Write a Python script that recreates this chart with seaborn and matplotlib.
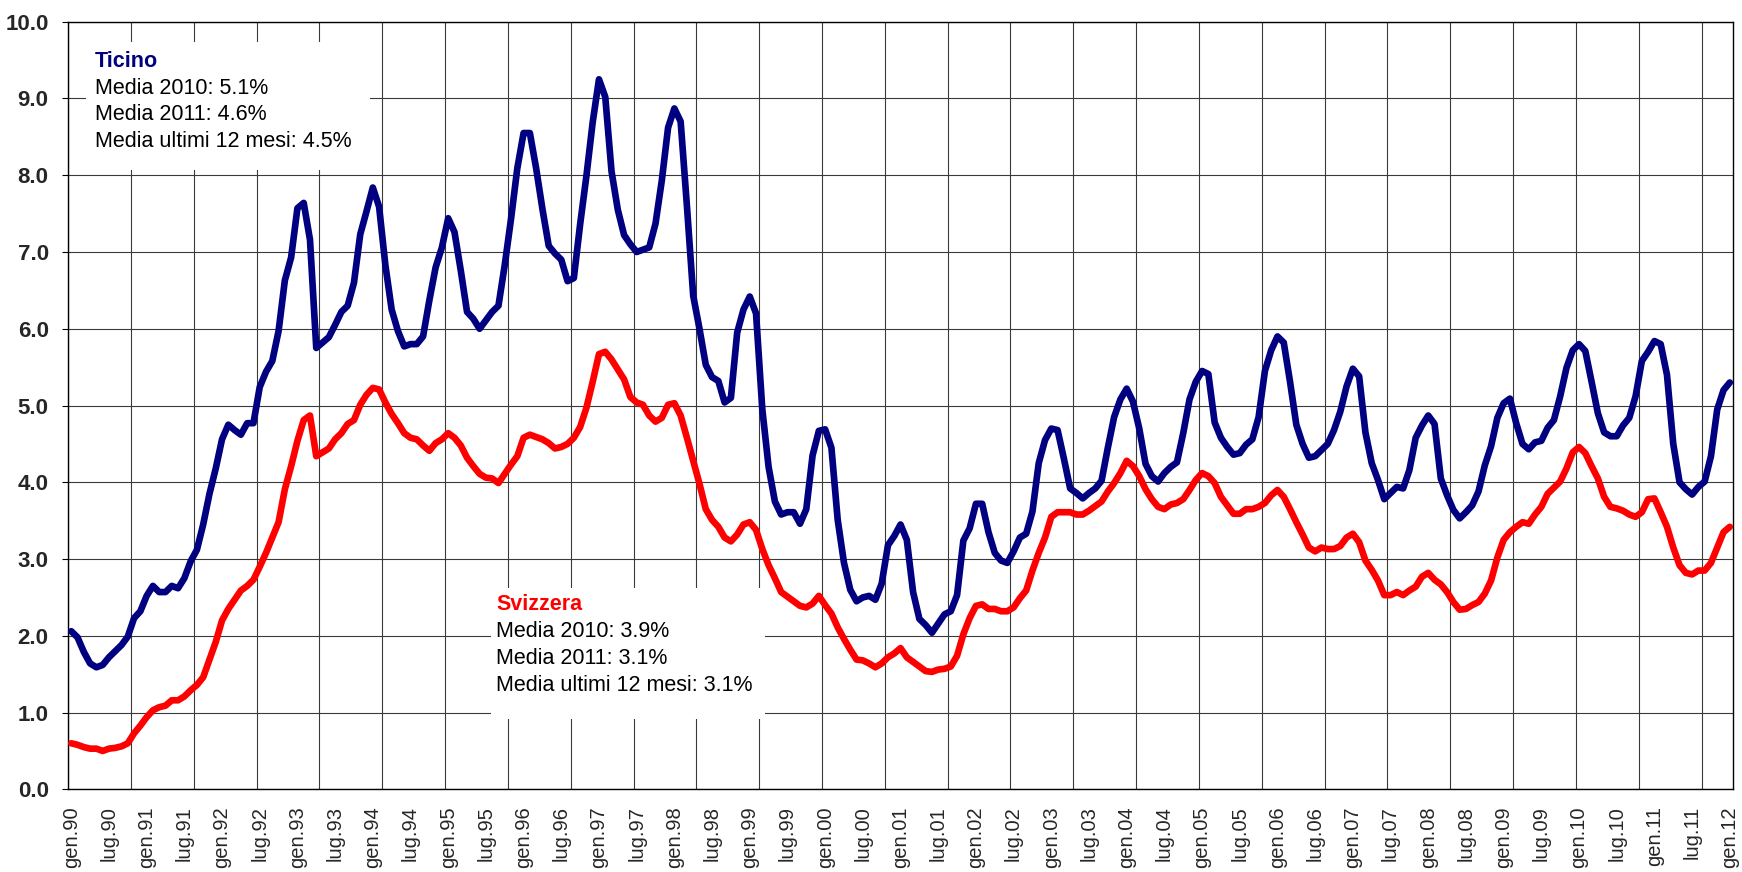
import numpy as np
import pandas as pd
import matplotlib
matplotlib.use('Agg')
import matplotlib.pyplot as plt
from matplotlib.patches import Rectangle
import seaborn as sns

# tasso di disoccupazione mensile, gen.90 - gen.12
ticino = [
    2.06, 1.98, 1.79, 1.64, 1.59, 1.62, 1.72, 1.80, 1.88, 1.99,
    2.23, 2.32, 2.52, 2.65, 2.57, 2.57, 2.65, 2.62, 2.75, 2.97,
    3.12, 3.45, 3.85, 4.18, 4.56, 4.75, 4.68, 4.62, 4.77, 4.77,
    5.24, 5.44, 5.58, 5.97, 6.63, 6.93, 7.57, 7.64, 7.16, 5.75,
    5.82, 5.89, 6.05, 6.22, 6.30, 6.60, 7.23, 7.53, 7.84, 7.59,
    6.83, 6.25, 5.97, 5.77, 5.80, 5.80, 5.90, 6.37, 6.80, 7.06,
    7.44, 7.26, 6.76, 6.22, 6.13, 6.00, 6.11, 6.22, 6.30, 6.83,
    7.43, 8.09, 8.55, 8.55, 8.09, 7.56, 7.08, 6.98, 6.90, 6.62,
    6.66, 7.36, 7.99, 8.69, 9.25, 9.02, 8.05, 7.55, 7.22, 7.10,
    7.00, 7.03, 7.06, 7.37, 7.93, 8.62, 8.87, 8.70, 7.60, 6.43,
    6.00, 5.53, 5.37, 5.32, 5.04, 5.10, 5.95, 6.25, 6.42, 6.20,
    4.95, 4.20, 3.75, 3.58, 3.61, 3.61, 3.46, 3.65, 4.35, 4.67,
    4.69, 4.45, 3.51, 2.95, 2.60, 2.45, 2.50, 2.52, 2.47, 2.68,
    3.18, 3.30, 3.45, 3.25, 2.57, 2.22, 2.14, 2.04, 2.16, 2.28,
    2.32, 2.53, 3.24, 3.40, 3.72, 3.72, 3.35, 3.08, 2.98, 2.95,
    3.10, 3.28, 3.33, 3.62, 4.25, 4.55, 4.70, 4.68, 4.31, 3.92,
    3.86, 3.79, 3.86, 3.92, 4.02, 4.45, 4.85, 5.08, 5.22, 5.05,
    4.70, 4.24, 4.08, 4.01, 4.12, 4.20, 4.26, 4.64, 5.08, 5.31,
    5.45, 5.41, 4.78, 4.58, 4.46, 4.36, 4.38, 4.49, 4.56, 4.85,
    5.45, 5.72, 5.90, 5.82, 5.31, 4.75, 4.50, 4.32, 4.34, 4.42,
    4.50, 4.68, 4.92, 5.25, 5.48, 5.38, 4.65, 4.25, 4.03, 3.78,
    3.86, 3.94, 3.92, 4.16, 4.58, 4.74, 4.87, 4.76, 4.05, 3.83,
    3.64, 3.53, 3.61, 3.70, 3.88, 4.22, 4.47, 4.84, 5.03, 5.09,
    4.77, 4.50, 4.43, 4.52, 4.54, 4.71, 4.81, 5.12, 5.49, 5.72,
    5.80, 5.71, 5.31, 4.90, 4.65, 4.60, 4.60, 4.74, 4.84, 5.12,
    5.58, 5.70, 5.84, 5.80, 5.40, 4.50, 4.00, 3.91, 3.84, 3.94,
    4.01, 4.34, 4.95, 5.20, 5.30,
]
svizzera = [
    0.60, 0.58, 0.55, 0.53, 0.53, 0.50, 0.53, 0.54, 0.56, 0.60,
    0.73, 0.83, 0.94, 1.03, 1.07, 1.09, 1.16, 1.16, 1.21, 1.29,
    1.36, 1.46, 1.69, 1.92, 2.20, 2.35, 2.47, 2.59, 2.65, 2.73,
    2.90, 3.08, 3.28, 3.48, 3.91, 4.21, 4.54, 4.81, 4.87, 4.34,
    4.39, 4.44, 4.56, 4.64, 4.76, 4.81, 5.01, 5.14, 5.23, 5.21,
    5.04, 4.89, 4.77, 4.64, 4.58, 4.56, 4.48, 4.41, 4.51, 4.56,
    4.64, 4.58, 4.48, 4.32, 4.21, 4.11, 4.06, 4.05, 3.99, 4.11,
    4.23, 4.34, 4.58, 4.62, 4.59, 4.56, 4.51, 4.44, 4.46, 4.50,
    4.58, 4.72, 4.97, 5.31, 5.67, 5.70, 5.60, 5.47, 5.34, 5.11,
    5.04, 5.01, 4.87, 4.79, 4.84, 5.01, 5.03, 4.87, 4.58, 4.28,
    3.98, 3.65, 3.51, 3.42, 3.28, 3.23, 3.32, 3.45, 3.48, 3.38,
    3.13, 2.92, 2.75, 2.57, 2.51, 2.45, 2.39, 2.37, 2.42, 2.52,
    2.40, 2.29, 2.11, 1.96, 1.82, 1.69, 1.68, 1.64, 1.59, 1.64,
    1.72, 1.77, 1.84, 1.72, 1.66, 1.60, 1.54, 1.53, 1.56, 1.57,
    1.60, 1.74, 2.02, 2.23, 2.39, 2.41, 2.35, 2.35, 2.32, 2.32,
    2.37, 2.49, 2.59, 2.85, 3.08, 3.28, 3.55, 3.61, 3.61, 3.61,
    3.58, 3.58, 3.63, 3.69, 3.75, 3.88, 3.99, 4.12, 4.28, 4.21,
    4.08, 3.91, 3.78, 3.68, 3.65, 3.71, 3.73, 3.78, 3.90, 4.03,
    4.12, 4.08, 3.99, 3.81, 3.70, 3.59, 3.59, 3.65, 3.65, 3.68,
    3.73, 3.83, 3.90, 3.81, 3.65, 3.48, 3.32, 3.15, 3.10, 3.15,
    3.13, 3.13, 3.17, 3.28, 3.33, 3.22, 2.98, 2.86, 2.72, 2.53,
    2.53, 2.57, 2.53, 2.59, 2.64, 2.77, 2.82, 2.73, 2.67, 2.57,
    2.44, 2.34, 2.35, 2.40, 2.44, 2.55, 2.72, 3.02, 3.25, 3.35,
    3.42, 3.48, 3.46, 3.58, 3.68, 3.85, 3.93, 4.01, 4.18, 4.39,
    4.46, 4.38, 4.21, 4.05, 3.81, 3.68, 3.66, 3.63, 3.58, 3.55,
    3.61, 3.78, 3.79, 3.61, 3.42, 3.15, 2.92, 2.82, 2.80, 2.85,
    2.85, 2.95, 3.15, 3.35, 3.42,
]
start_year = 1990
label_months = ['gen', 'lug']

ticino_notes = ['Media 2010: 5.1%', 'Media 2011: 4.6%', 'Media ultimi 12 mesi: 4.5%']
svizzera_notes = ['Media 2010: 3.9%', 'Media 2011: 3.1%', 'Media ultimi 12 mesi: 3.1%']

colors = {'Ticino': '#000080', 'Svizzera': '#ff0000'}

n = len(ticino)
df = pd.DataFrame({'mese': np.arange(n), 'Ticino': ticino, 'Svizzera': svizzera})
long_df = df.melt(id_vars='mese', var_name='regione', value_name='tasso')

sns.set_style('white')
plt.rcParams['font.family'] = ['Liberation Sans', 'DejaVu Sans']

fig = plt.figure(figsize=(17.42, 8.72), dpi=100)
ax = fig.add_axes([0.0391, 0.0948, 0.9557, 0.8803])

sns.lineplot(data=long_df, x='mese', y='tasso', hue='regione', palette=colors,
             linewidth=4.8, legend=False, ax=ax, zorder=3)

ax.set_xlim(-0.5, n - 0.5)
ax.set_ylim(0, 10)
ax.set_xlabel('')
ax.set_ylabel('')
ax.set_axisbelow(True)

# gridlines every 10 months, labels every 6 months
ax.set_xticks(np.arange(-0.5, n - 1, 10))
ax.set_xticklabels([])
label_pos = np.arange(0, n, 6)
labels = ['%s.%02d' % (label_months[(p // 6) % 2], (start_year + p // 12) % 100) for p in label_pos]
ax.set_xticks(label_pos, labels=labels, minor=True)
ax.tick_params(axis='x', which='major', length=5, width=0.8, direction='out', color='black')
ax.tick_params(axis='x', which='minor', length=0, pad=12, labelsize=14.5, labelrotation=90)

ax.set_yticks(np.arange(0, 11, 1))
ax.set_yticklabels(['%.1f' % v for v in range(11)], fontsize=16, fontweight='bold')
ax.tick_params(axis='y', length=4, width=0.8, pad=10, direction='out', color='black', left=True)

ax.grid(True, which='major', color='#3a3a3a', linewidth=0.8)
for sp in ax.spines.values():
    sp.set_color('black')
    sp.set_linewidth(1.0)

# text boxes
ax.add_patch(Rectangle((2.4, 8.07), 45.2, 1.67, facecolor='white', edgecolor='none', zorder=1.5))
ax.text(3.8, 9.48, 'Ticino', color=colors['Ticino'], fontweight='bold', fontsize=15.5,
        va='center', ha='left', zorder=4)
for yv, s in zip([9.13, 8.79, 8.44], ticino_notes):
    ax.text(3.8, yv, s, color='black', fontsize=15.5, va='center', ha='left', zorder=4)

ax.add_patch(Rectangle((66.8, 0.92), 43.7, 1.70, facecolor='white', edgecolor='none', zorder=1.5))
ax.text(67.6, 2.41, 'Svizzera', color=colors['Svizzera'], fontweight='bold', fontsize=15.5,
        va='center', ha='left', zorder=4)
for yv, s in zip([2.06, 1.70, 1.35], svizzera_notes):
    ax.text(67.6, yv, s, color='black', fontsize=15.5, va='center', ha='left', zorder=4)

fig.savefig('out.png', dpi=100)
